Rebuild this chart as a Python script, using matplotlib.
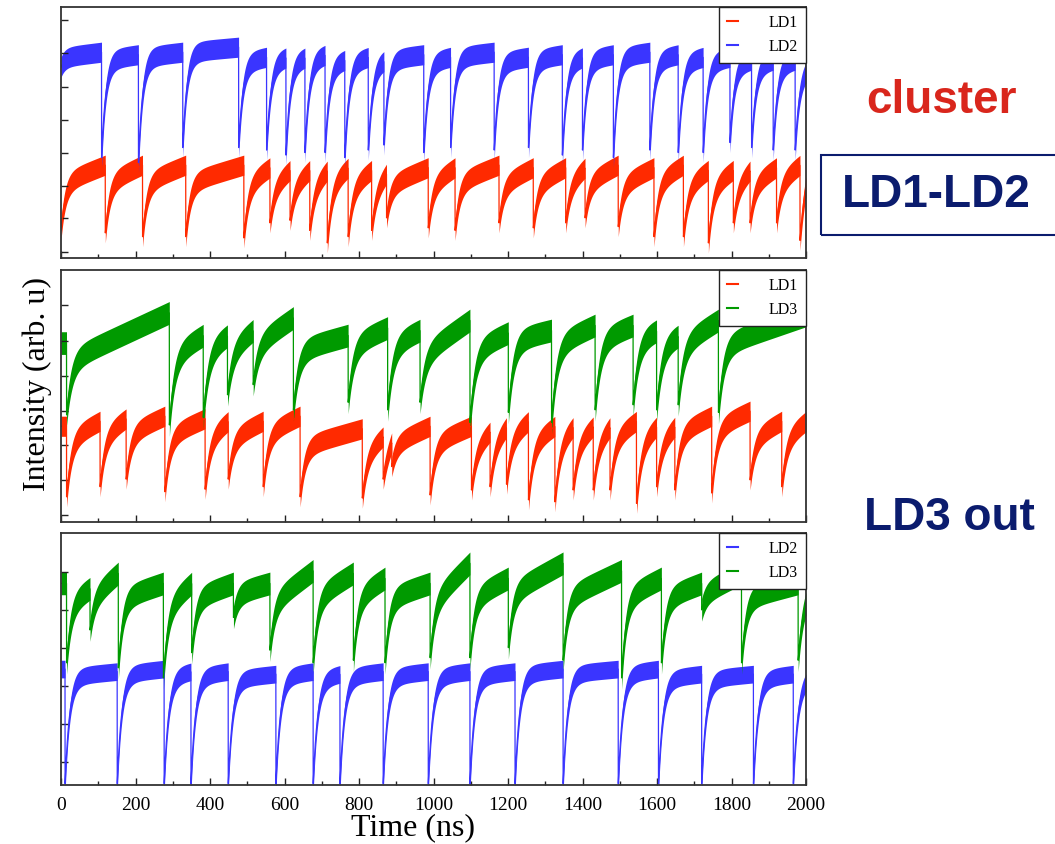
import numpy as np
import matplotlib.pyplot as plt
from matplotlib.patches import Rectangle

# ---- data (time in ns, intensity as fraction of panel height) ----
# panel 1 : LD1 / LD2
ld1_a_t = [0, 119, 219, 335, 491, 561, 615, 668, 715, 771, 834, 874, 986, 1058, 1176,
           1268, 1355, 1407, 1496, 1592, 1671, 1738, 1805, 1850, 1921, 1984]
ld1_a_dip = [0.07, 0.06, 0.045, 0.045, 0.04, 0.10, 0.11, 0.07, 0.02, 0.045, 0.07, 0.12, 0.08,
             0.07, 0.10, 0.08, 0.10, 0.12, 0.085, 0.045, 0.045, 0.02, 0.10, 0.10, 0.10, 0.03]
ld1_a_end = [0.37, 0.37, 0.37, 0.37, 0.36, 0.35, 0.35, 0.35, 0.36, 0.35, 0.34, 0.36, 0.36,
             0.37, 0.36, 0.36, 0.36, 0.37, 0.36, 0.37, 0.35, 0.35, 0.35, 0.36, 0.37, 0.34]

ld2_a_t = [0, 109, 208, 327, 477, 552, 604, 655, 709, 762, 825, 867, 974, 1046, 1163,
           1255, 1346, 1400, 1483, 1581, 1657, 1724, 1796, 1854, 1912, 1971]
ld2_a_dip = [0.72, 0.36, 0.34, 0.40, 0.40, 0.39, 0.37, 0.38, 0.38, 0.36, 0.39, 0.41, 0.38,
             0.40, 0.39, 0.40, 0.37, 0.39, 0.36, 0.39, 0.38, 0.38, 0.42, 0.40, 0.39, 0.39]
ld2_a_end = [0.82, 0.81, 0.82, 0.84, 0.80, 0.80, 0.80, 0.81, 0.79, 0.80, 0.79, 0.81, 0.80,
             0.82, 0.80, 0.81, 0.80, 0.81, 0.82, 0.81, 0.80, 0.80, 0.79, 0.79, 0.79, 0.76]

# panel 2 : LD1 / LD3
ld1_b_t = [15, 105, 175, 279, 387, 449, 543, 642, 809, 865, 888, 991, 1102, 1152, 1196,
           1255, 1326, 1375, 1429, 1474, 1545, 1599, 1648, 1747, 1850, 1935]
ld1_b_dip = [0.06, 0.10, 0.13, 0.08, 0.09, 0.13, 0.10, 0.06, 0.055, 0.13, 0.18, 0.067, 0.087,
             0.10, 0.11, 0.048, 0.04, 0.087, 0.087, 0.087, 0.034, 0.10, 0.087, 0.075, 0.127, 0.10]
ld1_b_end = [0.40, 0.41, 0.42, 0.41, 0.40, 0.40, 0.42, 0.37, 0.34, 0.33, 0.38, 0.38, 0.36,
             0.38, 0.40, 0.38, 0.38, 0.38, 0.38, 0.40, 0.38, 0.38, 0.42, 0.44, 0.40, 0.40]

ld3_b_t = [15, 291, 382, 447, 516, 624, 771, 877, 964, 1098, 1201, 1317, 1434, 1536, 1599, 1657, 1765]
ld3_b_dip = [0.38, 0.34, 0.37, 0.46, 0.50, 0.40, 0.43, 0.40, 0.43, 0.35, 0.39, 0.35, 0.40,
             0.42, 0.40, 0.42, 0.39]
ld3_b_start = [0.64, 0.66, 0.68, 0.68, 0.70, 0.68, 0.70, 0.70, 0.66, 0.68, 0.72, 0.70, 0.72,
               0.72, 0.70, 0.70, 0.70]
ld3_b_end = [0.83, 0.74, 0.74, 0.76, 0.81, 0.74, 0.77, 0.76, 0.80, 0.75, 0.76, 0.78, 0.78,
             0.76, 0.74, 0.80, 0.82]

# panel 3 : LD2 / LD3
ld2_c_t = [11, 151, 277, 349, 449, 577, 677, 749, 865, 986, 1098, 1219, 1348, 1496, 1604, 1720, 1859, 1966]
ld2_c_dip = [-0.03] * 18
ld2_c_end = [0.45, 0.46, 0.45, 0.45, 0.44, 0.45, 0.44, 0.45, 0.45, 0.45, 0.45, 0.46, 0.46,
             0.46, 0.44, 0.44, 0.44, 0.43]

ld3_c_t = [15, 78, 154, 275, 351, 463, 561, 677, 785, 870, 991, 1098, 1201, 1348, 1505, 1612, 1720, 1827, 1979]
ld3_c_dip = [0.44, 0.57, 0.42, 0.38, 0.48, 0.62, 0.49, 0.44, 0.45, 0.44, 0.46, 0.46, 0.50,
             0.45, 0.38, 0.44, 0.65, 0.44, 0.45]
ld3_c_start = [0.72, 0.74, 0.74, 0.70, 0.74, 0.76, 0.72, 0.74, 0.74, 0.74, 0.72, 0.74, 0.76,
               0.74, 0.74, 0.74, 0.76, 0.74, 0.72]
ld3_c_end = [0.78, 0.84, 0.80, 0.80, 0.80, 0.80, 0.85, 0.84, 0.82, 0.80, 0.88, 0.82, 0.88,
             0.85, 0.82, 0.80, 0.84, 0.80, 0.76]

xticks = [0, 200, 400, 600, 800, 1000, 1200, 1400, 1600, 1800, 2000]

RED = '#ff2a00'
BLUE = '#3a35ff'
GREEN = '#009a00'

t = np.linspace(0, 2000, 8001)


def trace(ev_t, ev_dip, ev_end, ev_start, y0, tau, w):
    # each event: sudden drop, then recovery toward a slowly rising level
    y = np.full_like(t, y0)
    for i in range(len(ev_t)):
        t0 = ev_t[i]
        t1 = ev_t[i + 1] if i + 1 < len(ev_t) else 2000.5
        m = (t >= t0) & (t < t1)
        dt = t[m] - t0
        base = ev_start[i] + (ev_end[i] - ev_start[i]) * dt / (t1 - t0)
        d = ev_dip[i] + w
        y[m] = base - (ev_start[i] - d) * np.exp(-dt / tau)
    return y


def draw(ax, y, w, color, label):
    ax.fill_between(t, y - w, y + w, color=color, lw=0)
    line, = ax.plot(t, y, color=color, lw=0.9, label=label)
    return line


plt.rcParams['font.family'] = ['Liberation Serif', 'DejaVu Serif']

fig = plt.figure(figsize=(10.55, 8.44), dpi=100)
left, width = 61 / 1055, 745 / 1055
boxes = [(7, 258), (270, 522), (533, 785)]
yticks = [[0.024, 0.159, 0.287, 0.418, 0.55, 0.68, 0.817, 0.948],
          [0.028, 0.167, 0.305, 0.44, 0.58, 0.72, 0.86],
          [0.09, 0.242, 0.393, 0.545, 0.694, 0.846]]
axes = []
for (top, bot), yt in zip(boxes, yticks):
    ax = fig.add_axes([left, 1 - bot / 844, width, (bot - top) / 844])
    ax.set_xlim(0, 2000)
    ax.set_ylim(0, 1)
    ax.set_yticks(yt)
    ax.set_yticklabels([])
    ax.set_xticks(xticks)
    ax.set_xticks(np.arange(100, 2000, 200), minor=True)
    ax.tick_params(axis='both', which='major', direction='in', length=5, width=1, color='#222222',
                   labelsize=14, pad=9)
    ax.tick_params(axis='x', which='minor', direction='in', length=3, width=1, color='#222222')
    for s in ax.spines.values():
        s.set_linewidth(1.3)
        s.set_color('#333333')
    axes.append(ax)

ax1, ax2, ax3 = axes

# panel 1
y_r = trace(ld1_a_t, ld1_a_dip, ld1_a_end, [e - 0.07 for e in ld1_a_end], 0.37, 12, 0.04)
y_b = trace(ld2_a_t, ld2_a_dip, ld2_a_end, [e - 0.02 for e in ld2_a_end], 0.80, 11, 0.04)
draw(ax1, y_r, 0.04, RED, 'LD1')
draw(ax1, y_b, 0.04, BLUE, 'LD2')

# panel 2
y_r = trace(ld1_b_t, ld1_b_dip, ld1_b_end, [e - 0.07 for e in ld1_b_end], 0.38, 13, 0.04)
y_g = trace(ld3_b_t, ld3_b_dip, ld3_b_end, ld3_b_start, 0.71, 14, 0.045)
draw(ax2, y_r, 0.04, RED, 'LD1')
draw(ax2, y_g, 0.045, GREEN, 'LD3')

# panel 3
y_b = trace(ld2_c_t, ld2_c_dip, ld2_c_end, [e - 0.02 for e in ld2_c_end], 0.46, 12, 0.035)
y_g = trace(ld3_c_t, ld3_c_dip, ld3_c_end, ld3_c_start, 0.80, 12, 0.045)
draw(ax3, y_b, 0.035, BLUE, 'LD2')
draw(ax3, y_g, 0.045, GREEN, 'LD3')

for ax in axes:
    leg = ax.legend(loc='upper right', bbox_to_anchor=(1, 1), borderaxespad=0, fontsize=11.5,
                    handlelength=0.7, handletextpad=1.9, borderpad=0.5, fancybox=False,
                    framealpha=1, edgecolor='#222222')
    leg.get_frame().set_linewidth(1.0)
    leg.set_zorder(5)
    for ln in leg.get_lines():
        ln.set_linewidth(1.5)

ax1.set_xticklabels([])
ax2.set_xticklabels([])

fig.text(37 / 1055, 1 - 384 / 844, 'Intensity (arb. u)', rotation=90, fontsize=23,
         ha='center', va='center')
fig.text(413 / 1055, 1 - 828 / 844, 'Time (ns)', fontsize=23, ha='center', va='center')

# annotations on the right
fig.text(941 / 1055, 1 - 101 / 844, 'cluster', fontsize=33, fontweight='bold',
         color='#d9261c', family='Liberation Sans', ha='center', va='center')
fig.patches.append(Rectangle((821 / 1055, 1 - 235 / 844), 240 / 1055, 80 / 844,
                             transform=fig.transFigure, fill=False, edgecolor='#0b1c6e', lw=1.5))
fig.text(936 / 1055, 1 - 195 / 844, 'LD1-LD2', fontsize=33, fontweight='bold',
         color='#0b1c6e', family='Liberation Sans', ha='center', va='center')
fig.text(949 / 1055, 1 - 518 / 844, 'LD3 out', fontsize=33, fontweight='bold',
         color='#0b1c6e', family='Liberation Sans', ha='center', va='center')

plt.savefig('out.png', dpi=100)
